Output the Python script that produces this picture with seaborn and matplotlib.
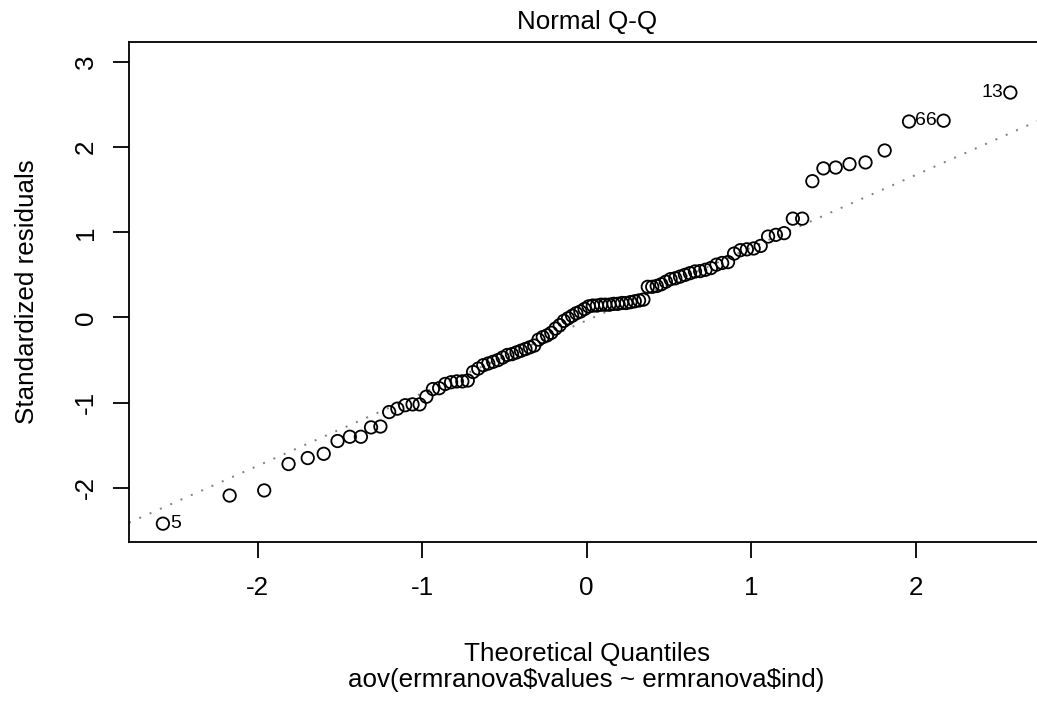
import numpy as np
import pandas as pd
import matplotlib
matplotlib.use("Agg")
import matplotlib.pyplot as plt
import seaborn as sns
from statistics import NormalDist

# Sorted standardized residuals of the one-way ANOVA fit
std_resid = [
    -2.42, -2.09, -2.03, -1.72, -1.65, -1.60, -1.45, -1.40, -1.40, -1.29,
    -1.28, -1.11, -1.07, -1.03, -1.02, -1.02, -0.93, -0.84, -0.83, -0.78,
    -0.76, -0.75, -0.75, -0.74, -0.64, -0.60, -0.56, -0.54, -0.52, -0.50,
    -0.47, -0.44, -0.43, -0.41, -0.39, -0.37, -0.35, -0.33, -0.26, -0.23,
    -0.21, -0.18, -0.13, -0.09, -0.04, -0.01, 0.02, 0.05, 0.07, 0.10,
    0.13, 0.14, 0.14, 0.15, 0.15, 0.15, 0.16, 0.16, 0.17, 0.17,
    0.18, 0.19, 0.20, 0.21, 0.36, 0.36, 0.37, 0.39, 0.42, 0.45,
    0.46, 0.48, 0.50, 0.52, 0.54, 0.545, 0.56, 0.58, 0.62, 0.64,
    0.65, 0.75, 0.79, 0.80, 0.81, 0.84, 0.95, 0.97, 0.99, 1.16,
    1.16, 1.60, 1.75, 1.76, 1.80, 1.82, 1.96, 2.30, 2.31, 2.64,
]

# Observation numbers of the three most extreme residuals and their ranks
id_labels = ["5", "66", "13"]
id_ranks = [1, 99, 100]

x_ticks = [-2, -1, 0, 1, 2]
y_ticks = [-2, -1, 0, 1, 2, 3]

title = "Normal Q-Q"
x_label = "Theoretical Quantiles"
y_label = "Standardized residuals"
sub_caption = "aov(ermranova$values ~ ermranova$ind)"

# Theoretical normal quantiles at the plotting positions (i - 0.5) / n
n = len(std_resid)
nd = NormalDist()
theo = [nd.inv_cdf((i - 0.5) / n) for i in range(1, n + 1)]
df = pd.DataFrame({"theoretical": theo, "residual": std_resid})

sns.set_style("ticks")
plt.rcParams["font.family"] = ["Liberation Sans", "DejaVu Sans"]

W, H, DPI = 1037, 702, 100
fig = plt.figure(figsize=(W / DPI, H / DPI), dpi=DPI)

# Axis limits in the style of plot.lm: extra headroom above, then 4% padding
xr = np.array([min(theo), max(theo)])
yr = np.array([min(std_resid), max(std_resid)])
yr[1] += np.diff(yr)[0] * 0.075
xlim = (xr[0] - 0.04 * np.diff(xr)[0], xr[1] + 0.04 * np.diff(xr)[0])
ylim = (yr[0] - 0.04 * np.diff(yr)[0], yr[1] + 0.04 * np.diff(yr)[0])

# Plot region: left 129 px, x-scale 164.5 px/unit, y 41.7..542.2 px
left_px = 129.0
right_px = left_px + (xlim[1] - xlim[0]) * 164.5
top_px, bot_px = 41.7, 542.2
ax = fig.add_axes([left_px / W, 1 - bot_px / H,
                   (right_px - left_px) / W, (bot_px - top_px) / H])

base_fs = 18.7

# Reference line through the quartiles
q_y = np.quantile(df["residual"], [0.25, 0.75])
q_x = np.array([nd.inv_cdf(0.25), nd.inv_cdf(0.75)])
slope = (q_y[1] - q_y[0]) / (q_x[1] - q_x[0])
intercept = q_y[0] - slope * q_x[0]
ax.axline((0, intercept), slope=slope, color="#7f7f7f",
          linestyle=(0, (1.0, 4.8)), linewidth=1.4, zorder=1)

sns.scatterplot(data=df, x="theoretical", y="residual", ax=ax,
                marker="o", s=80, facecolor="none", edgecolor="black",
                linewidth=1.3, zorder=3)

# Identify the extreme points
x_mid = np.mean(xlim)
for lab, rank in zip(id_labels, id_ranks):
    px, py = theo[rank - 1], std_resid[rank - 1]
    if px < x_mid:
        ax.annotate(lab, (px, py), xytext=(5.5, 0), textcoords="offset points",
                    ha="left", va="center", fontsize=14, color="black")
    else:
        ax.annotate(lab, (px, py), xytext=(-5.0, 0), textcoords="offset points",
                    ha="right", va="center", fontsize=14, color="black")

ax.set_xlim(xlim)
ax.set_ylim(ylim)
ax.set_xticks(x_ticks)
ax.set_yticks(y_ticks)
ax.set_xticklabels([str(t) for t in x_ticks])
ax.set_yticklabels([str(t) for t in y_ticks])

for s in ax.spines.values():
    s.set_color("black")
    s.set_linewidth(1.3)
    s.set_visible(True)

ax.tick_params(axis="both", which="major", direction="out", length=11.6,
               width=1.3, color="black", labelsize=base_fs,
               labelcolor="black")
ax.tick_params(axis="x", pad=13)
ax.tick_params(axis="y", pad=11, labelrotation=90)
for t in ax.get_yticklabels():
    t.set_va("center")

ax.set_title(title, fontsize=base_fs, pad=9, color="black")

ax.set_xlabel(x_label, fontsize=base_fs, va="baseline", color="black")
ax.xaxis.set_label_coords(0.5, (bot_px - 661) / (bot_px - top_px))
ax.set_ylabel(y_label, fontsize=base_fs, va="baseline", color="black")
ax.yaxis.set_label_coords((34 - left_px) / (right_px - left_px), 0.5)

fig.text((left_px + right_px) / 2 / W, 1 - 687 / H, sub_caption,
         fontsize=base_fs, ha="center", va="baseline", color="black",
         parse_math=False)

fig.savefig("out.png", dpi=DPI, facecolor="white")
